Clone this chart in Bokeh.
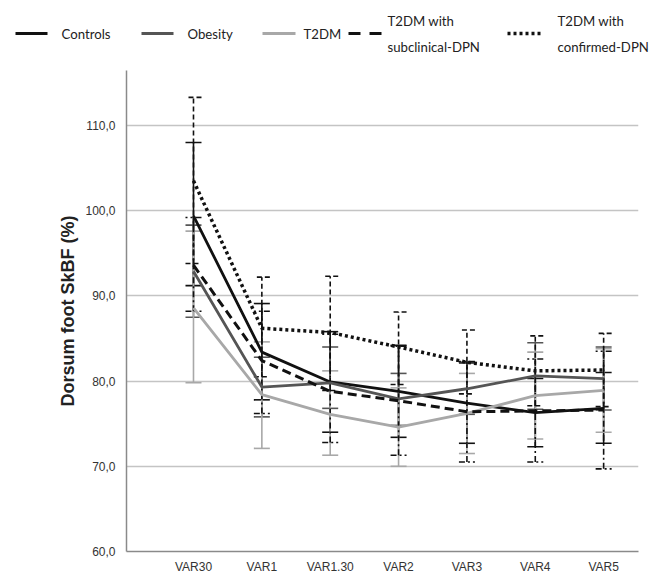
from bokeh.plotting import figure
from bokeh.layouts import column
from bokeh.models import (ColumnDataSource, FixedTicker, Whisker, TeeHead, Range1d)
from bokeh.core.properties import value
from bokeh.embed import file_html
from bokeh.resources import INLINE

# ---------------- data ----------------
categories = ["VAR30", "VAR1", "VAR1.30", "VAR2", "VAR3", "VAR4", "VAR5"]
y_ticks = [60, 70, 80, 90, 100, 110]
y_tick_labels = ["60,0", "70,0", "80,0", "90,0", "100,0", "110,0"]

controls_mean = [99.4, 83.4, 79.9, 78.8, 77.4, 76.3, 76.8]
controls_lo = [91.2, 77.8, 74.0, 73.4, 72.7, 72.3, 72.7]
controls_hi = [108.0, 89.1, 85.8, 84.2, 82.2, 80.3, 81.0]

obesity_mean = [92.9, 79.3, 79.8, 77.9, 79.1, 80.6, 80.3]
obesity_lo = [87.5, 75.8, 76.8, 74.8, 76.1, 76.7, 76.6]
obesity_hi = [98.3, 82.8, 84.0, 80.9, 82.1, 84.5, 84.0]

t2dm_mean = [88.6, 78.4, 76.1, 74.6, 76.2, 78.3, 78.9]
t2dm_lo = [79.8, 72.1, 71.3, 70.0, 71.5, 73.2, 74.0]
t2dm_hi = [97.6, 84.6, 81.2, 79.2, 80.9, 83.4, 83.8]

subclin_mean = [93.6, 82.4, 78.8, 77.7, 76.4, 76.5, 76.6]
subclin_lo = [88.2, 76.2, 72.8, 71.3, 70.5, 70.5, 69.7]
subclin_hi = [99.2, 88.2, 85.5, 84.1, 82.3, 82.6, 83.5]

confirmed_mean = [103.5, 86.2, 85.7, 84.0, 82.2, 81.2, 81.3]
confirmed_lo = [93.8, 80.5, 78.9, 79.6, 78.5, 77.1, 77.0]
confirmed_hi = [113.3, 92.2, 92.3, 88.1, 86.0, 85.3, 85.6]

series_labels = ["Controls", "Obesity", "T2DM",
                 "T2DM with\nsubclinical-DPN", "T2DM with\nconfirmed-DPN"]

# styles: color, line width, line dash, error-bar dash, legend-sample dash
styles = [
    ("#111111", 2.8, "solid", "solid", "solid"),
    ("#555555", 2.8, "solid", "solid", "solid"),
    ("#a8a8a8", 2.8, "solid", "solid", "solid"),
    ("#111111", 3.0, "9 5", "6 3 2 3", "12 9"),
    ("#111111", 3.5, "3 3", "5 3", "3 3"),
]
series_data = [
    (controls_mean, controls_lo, controls_hi),
    (obesity_mean, obesity_lo, obesity_hi),
    (t2dm_mean, t2dm_lo, t2dm_hi),
    (subclin_mean, subclin_lo, subclin_hi),
    (confirmed_mean, confirmed_lo, confirmed_hi),
]

# legend layout (screen px)
legend_x0 = [15, 141, 262, 348, 507]
legend_x1 = [47, 173, 295, 381, 541]
legend_tx = [61, 187, 303, 387, 557]
LEG_H = 62
LEG_CY = 33
LEG_LINE_GAP = 26

# ---------------- legend strip ----------------
W = 654
leg = figure(width=W, height=LEG_H, output_backend="svg", toolbar_location=None,
             x_range=Range1d(0, W), y_range=Range1d(LEG_H, 0),
             x_axis_location=None, y_axis_location=None,
             min_border_left=0, min_border_right=0,
             min_border_top=0, min_border_bottom=0)
leg.outline_line_color = None
leg.xgrid.grid_line_color = None
leg.ygrid.grid_line_color = None

for lab, (col, lw, dash, bdash, ldash), x0, x1, tx in zip(
        series_labels, styles, legend_x0, legend_x1, legend_tx):
    leg.segment(x0=[x0], y0=[LEG_CY], x1=[x1], y1=[LEG_CY], line_color=col,
                line_width=lw, line_dash=ldash)
    lines = lab.split("\n")
    n = len(lines)
    ys = [LEG_CY + (i - (n - 1) / 2.0) * LEG_LINE_GAP for i in range(n)]
    leg.text(x=[tx] * n, y=ys, text=lines, text_font=value("Lato"),
             text_font_size="13.2px", text_color="#222222",
             text_baseline="middle", text_align="left")

# ---------------- main figure ----------------
H = 578 - LEG_H
FRAME_LEFT = 126
FRAME_RIGHT_BORDER = 16
FRAME_TOP = 8
FRAME_BOTTOM_BORDER = 27

p = figure(width=W, height=H, output_backend="svg", toolbar_location=None,
           x_range=Range1d(-0.98, 6.51), y_range=Range1d(60, 116.45),
           min_border_left=FRAME_LEFT, min_border_right=FRAME_RIGHT_BORDER,
           min_border_top=FRAME_TOP, min_border_bottom=FRAME_BOTTOM_BORDER)
p.outline_line_color = None
p.background_fill_color = "white"
p.border_fill_color = "white"

# keep each figure's frame independent inside the column
for fig in (leg, p):
    try:
        fig.frame_align = False
    except Exception:
        pass

xs = list(range(len(categories)))

for (mean, lo, hi), (col, lw, dash, bdash, ldash) in zip(series_data, styles):
    src = ColumnDataSource(dict(x=xs, lo=lo, hi=hi))
    w = Whisker(base="x", lower="lo", upper="hi", source=src,
                line_color=col, line_width=1.6, line_dash=bdash,
                upper_head=TeeHead(size=16, line_color=col, line_width=1.6, line_dash=bdash),
                lower_head=TeeHead(size=16, line_color=col, line_width=1.6, line_dash=bdash))
    p.add_layout(w)

for (mean, lo, hi), (col, lw, dash, bdash, ldash) in zip(series_data, styles):
    src = ColumnDataSource(dict(x=xs, mean=mean))
    p.line("x", "mean", source=src, line_color=col, line_width=lw, line_dash=dash)

# axes
p.xaxis.ticker = FixedTicker(ticks=xs)
p.xaxis.major_label_overrides = {i: c for i, c in enumerate(categories)}
p.yaxis.ticker = FixedTicker(ticks=y_ticks)
p.yaxis.major_label_overrides = {t: l for t, l in zip(y_ticks, y_tick_labels)}
for ax in (p.xaxis, p.yaxis):
    ax.axis_line_color = "#8a8a8a"
    ax.axis_line_width = 1.5
    ax.major_tick_line_color = None
    ax.minor_tick_line_color = None
    ax.major_label_text_font = "Liberation Sans"
    ax.major_label_text_color = "#333333"
    ax.major_label_text_font_size = "12px"
p.xaxis.major_label_standoff = 2
p.yaxis.major_label_standoff = 5
p.yaxis.axis_label = "Dorsum foot SkBF (%)"
p.yaxis.axis_label_text_font = "Liberation Sans"
p.yaxis.axis_label_text_font_style = "bold"
p.yaxis.axis_label_text_font_size = "18px"
p.yaxis.axis_label_text_color = "#222222"
p.yaxis.axis_label_standoff = 4

p.xgrid.grid_line_color = None
p.ygrid.ticker = FixedTicker(ticks=y_ticks[1:])
p.ygrid.grid_line_color = "#c4c4c4"
p.ygrid.grid_line_width = 1.3

layout = column(leg, p, spacing=0)
open("out.html", "w").write(file_html(layout, INLINE))
